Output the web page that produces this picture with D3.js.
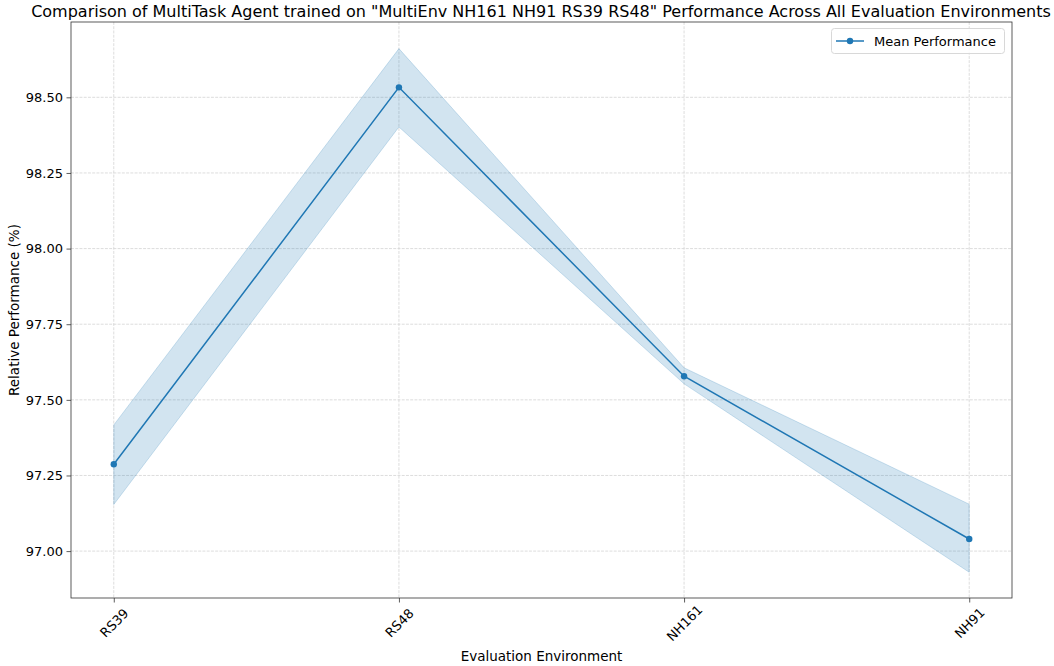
<!DOCTYPE html>
<html><head><meta charset="utf-8">
<script src="https://cdn.jsdelivr.net/npm/d3@7"></script>
<style>body{margin:0;background:#fff;} text{font-family:"DejaVu Sans",sans-serif;fill:#000;}</style>
</head><body><svg id="c" width="1054" height="666"></svg>
<script>
const categories = ["RS39", "RS48", "NH161", "NH91"];
const meanValues = [97.287, 98.533, 97.578, 97.040];
const upperValues = [97.417, 98.661, 97.606, 97.155];
const lowerValues = [97.154, 98.402, 97.553, 96.930];
const yTicks = [97.00, 97.25, 97.50, 97.75, 98.00, 98.25, 98.50];

const svg = d3.select("#c");
const L = 71, R = 1012, T = 22, B = 598;
const x = d3.scaleLinear().domain([-0.15, 3.15]).range([L, R]);
const y = d3.scaleLinear().domain([96.845, 98.749]).range([B, T]);

// grid
const g = svg.append("g");
g.selectAll(".gx").data(categories).join("line")
  .attr("x1", (d,i)=>x(i)).attr("x2", (d,i)=>x(i)).attr("y1", T).attr("y2", B)
  .attr("stroke", "#d4d4d4").attr("stroke-width", 0.8).attr("stroke-dasharray", "2.96,1.28");
g.selectAll(".gy").data(yTicks).join("line")
  .attr("x1", L).attr("x2", R).attr("y1", d=>y(d)).attr("y2", d=>y(d))
  .attr("stroke", "#d4d4d4").attr("stroke-width", 0.8).attr("stroke-dasharray", "2.96,1.28");

// band
const idx = categories.map((d,i)=>i);
svg.append("path").datum(idx)
  .attr("d", d3.area().x(i=>x(i)).y0(i=>y(lowerValues[i])).y1(i=>y(upperValues[i])))
  .attr("fill", "#1f77b4").attr("fill-opacity", 0.2)
  .attr("stroke", "#1f77b4").attr("stroke-opacity", 0.2).attr("stroke-width", 1);

// line
svg.append("path").datum(idx)
  .attr("d", d3.line().x(i=>x(i)).y(i=>y(meanValues[i])))
  .attr("fill", "none").attr("stroke", "#1f77b4").attr("stroke-width", 1.5);
svg.selectAll(".pt").data(idx).join("circle")
  .attr("cx", i=>x(i)).attr("cy", i=>y(meanValues[i])).attr("r", 3.2).attr("fill", "#1f77b4");

// axes
const ax = svg.append("g").attr("transform", `translate(0,${B})`)
  .call(d3.axisBottom(x).tickValues(idx).tickFormat(i=>categories[i]).tickSize(4.5).tickSizeOuter(0));
ax.select(".domain").remove();
ax.selectAll("text").attr("font-size", 13).attr("font-family", "DejaVu Sans")
  .attr("text-anchor", "middle").attr("dy", "0.35em").attr("y", null)
  .attr("transform", "translate(0,25) rotate(-45)");
ax.selectAll("line").attr("stroke", "#333").attr("stroke-width", 0.8);

const ay = svg.append("g").attr("transform", `translate(${L},0)`)
  .call(d3.axisLeft(y).tickValues(yTicks).tickFormat(d3.format(".2f")).tickSize(4.5).tickSizeOuter(0));
ay.select(".domain").remove();
ay.selectAll("text").attr("font-size", 13).attr("font-family", "DejaVu Sans").attr("x", -8);
ay.selectAll("line").attr("stroke", "#333").attr("stroke-width", 0.8);

svg.append("rect").attr("x", L).attr("y", T).attr("width", R-L).attr("height", B-T)
  .attr("fill", "none").attr("stroke", "#333").attr("stroke-width", 0.8);

// labels
svg.append("text").attr("x", 541).attr("y", 17).attr("text-anchor", "middle").attr("font-size", 16)
  .text('Comparison of MultiTask Agent trained on "MultiEnv NH161 NH91 RS39 RS48" Performance Across All Evaluation Environments');
svg.append("text").attr("x", (L+R)/2).attr("y", 661).attr("text-anchor", "middle").attr("font-size", 13.5)
  .text("Evaluation Environment");
svg.append("text").attr("transform", `translate(19,${(T+B)/2}) rotate(-90)`).attr("text-anchor", "middle").attr("font-size", 13.5)
  .text("Relative Performance (%)");

// legend
const lg = svg.append("g");
lg.append("rect").attr("x", 831.5).attr("y", 28.5).attr("width", 173).attr("height", 25).attr("rx", 3)
  .attr("fill", "#fff").attr("fill-opacity", 0.8).attr("stroke", "#d8d8d8").attr("stroke-width", 1);
lg.append("line").attr("x1", 836).attr("x2", 864).attr("y1", 41).attr("y2", 41).attr("stroke", "#1f77b4").attr("stroke-width", 1.5);
lg.append("circle").attr("cx", 850).attr("cy", 41).attr("r", 3.2).attr("fill", "#1f77b4");
lg.append("text").attr("x", 874).attr("y", 45.5).attr("font-size", 13).text("Mean Performance");
</script></body></html>
